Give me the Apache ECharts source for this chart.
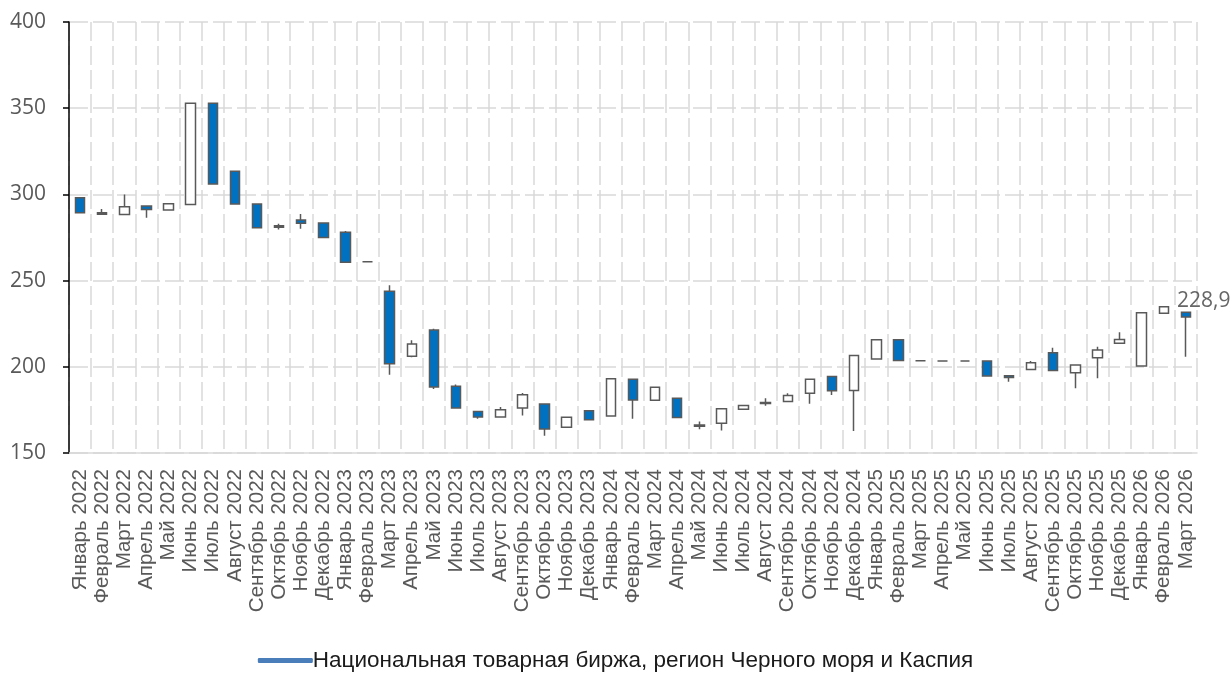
<!DOCTYPE html>
<html>
<head>
<meta charset="utf-8">
<script src="https://cdn.jsdelivr.net/npm/echarts@6/dist/echarts.min.js"></script>
<style>
    html, body { margin: 0; padding: 0; background: #fff; }
    #chart { width: 1231px; height: 673px; }
</style>
</head>
<body>
<div id="chart"></div>
<script>
// месяцы
var months = ['Январь 2022', 'Февраль 2022', 'Март 2022', 'Апрель 2022', 'Май 2022', 'Июнь 2022', 'Июль 2022', 'Август 2022',
    'Сентябрь 2022', 'Октябрь 2022', 'Ноябрь 2022', 'Декабрь 2022', 'Январь 2023', 'Февраль 2023', 'Март 2023', 'Апрель 2023',
    'Май 2023', 'Июнь 2023', 'Июль 2023', 'Август 2023', 'Сентябрь 2023', 'Октябрь 2023', 'Ноябрь 2023', 'Декабрь 2023',
    'Январь 2024', 'Февраль 2024', 'Март 2024', 'Апрель 2024', 'Май 2024', 'Июнь 2024', 'Июль 2024', 'Август 2024',
    'Сентябрь 2024', 'Октябрь 2024', 'Ноябрь 2024', 'Декабрь 2024', 'Январь 2025', 'Февраль 2025', 'Март 2025', 'Апрель 2025',
    'Май 2025', 'Июнь 2025', 'Июль 2025', 'Август 2025', 'Сентябрь 2025', 'Октябрь 2025', 'Ноябрь 2025', 'Декабрь 2025',
    'Январь 2026', 'Февраль 2026', 'Март 2026']

var opens = [298, 289.3, 288.4, 293.2, 290.9, 294.2, 352.8, 313.4, 294.4, 281.8, 285.1, 283.4, 278.1, 260.9, 243.8, 206.1,
    221.4, 188.7, 174.1, 170.9, 176.1, 178.4, 165, 174.5, 171.4, 192.8, 180.6, 181.8, 166.2, 167.3, 175.4, 179.3,
    179.9, 184.7, 194.4, 186.3, 204.5, 215.7, 203.5, 203.4, 203.4, 203.4, 194.8, 198.5, 208.2, 196.6, 205.3, 213.6,
    200.5, 231, 231.6]
var closes = [289.4, 288.5, 292.8, 291.3, 294.6, 352.8, 306, 294.4, 280.6, 281, 283.2, 275, 260.7, 260.9, 201.8, 213.2,
    188.3, 176.1, 170.9, 175.1, 183.8, 163.9, 170.7, 169.3, 193, 180.8, 188.2, 170.6, 165.5, 175.6, 177.6, 178.7,
    183.4, 192.8, 186.1, 206.6, 215.7, 203.7, 203.5, 203.4, 203.4, 194.7, 193.8, 202.4, 197.8, 201, 209.7, 215.9,
    231.4, 234.9, 228.9]
var lows = [289.4, 288.5, 288.4, 286.5, 290.9, 294.2, 306, 294.4, 280.6, 279.7, 280.1, 275, 260.7, 260.9, 195.4, 205.5,
    187.1, 176.1, 169.9, 170.9, 171.8, 160, 165, 169.3, 171.4, 169.8, 180.6, 170.6, 163.8, 163, 175.4, 177.4,
    179.9, 178.5, 183.7, 162.8, 204.5, 203.7, 203.5, 203.4, 203.4, 194.7, 191.4, 198.5, 197.8, 187.5, 193.3, 213.6,
    200.5, 231, 205.9]
var highs = [298, 291.5, 300, 293.2, 294.6, 352.8, 352.8, 313.4, 294.4, 283, 288.6, 283.4, 278.7, 260.9, 247.3, 215.4,
    222, 189.8, 174.1, 176.7, 184.8, 178.4, 170.7, 174.5, 193, 192.8, 188.2, 181.8, 168.3, 175.6, 177.6, 181.8,
    184.7, 192.8, 194.4, 206.6, 215.7, 215.7, 203.5, 203.4, 203.4, 203.4, 194.8, 203.4, 211.1, 201, 211.7, 220,
    231.4, 234.9, 231.6]

var seriesName = 'Национальная товарная биржа, регион Черного моря и Каспия'
var lastLabel = '228,9'

var candles = months.map(function(m, i) {
    return [opens[i], closes[i], lows[i], highs[i]]
})
var lastIdx = months.length - 1

var sansFont = '"Liberation Sans", "DejaVu Sans", sans-serif'

var gridLine = {
    show: true,
    lineStyle: { color: '#d9d9d9', width: 1.5, type: [19, 5] }
}

var chart = echarts.init(document.getElementById('chart'))
chart.setOption({
    animation: false,
    grid: { left: 69, right: 34, top: 22, bottom: 220, containLabel: false },
    legend: {
        top: 644,
        left: 'center',
        itemWidth: 55,
        itemHeight: 5,
        itemGap: 0,
        textStyle: { fontSize: 22.5, color: '#1a1a1a', fontFamily: sansFont, padding: [0, 0, 0, -5] },
        data: [{ name: seriesName, icon: 'roundRect', itemStyle: { color: '#4a7ebb', borderWidth: 0 } }]
    },
    xAxis: {
        type: 'category',
        data: months,
        boundaryGap: true,
        axisLine: { show: true, lineStyle: { color: '#d9d9d9', width: 1.5 } },
        axisTick: { show: false },
        splitLine: Object.assign({ interval: 0 }, gridLine),
        axisLabel: {
            interval: 0,
            rotate: 90,
            margin: 16,
            fontSize: 20.5,
            color: '#595959',
            fontFamily: sansFont
        }
    },
    yAxis: {
        type: 'value',
        min: 150,
        max: 400,
        interval: 50,
        axisLine: { show: true, lineStyle: { color: '#000', width: 1.5 } },
        axisTick: { show: true, length: 6, lineStyle: { color: '#000', width: 1.5 } },
        splitLine: gridLine,
        axisLabel: { fontSize: 21, color: '#595959', margin: 23, fontFamily: '"Open Sans"' }
    },
    series: [
        {
            name: seriesName,
            type: 'candlestick',
            barWidth: 10,
            data: candles,
            itemStyle: {
                color: '#ffffff',
                color0: '#0070c0',
                borderColor: '#595959',
                borderColor0: '#595959',
                borderWidth: 1.5
            }
        },
        {
            type: 'scatter',
            symbolSize: 0,
            silent: true,
            data: [[lastIdx, closes[lastIdx]]],
            label: {
                show: true,
                position: 'top',
                align: 'left',
                distance: 5,
                offset: [-9, 0],
                formatter: lastLabel,
                fontSize: 21,
                color: '#404040',
                fontFamily: '"Open Sans"'
            }
        }
    ]
})
</script>
</body>
</html>
